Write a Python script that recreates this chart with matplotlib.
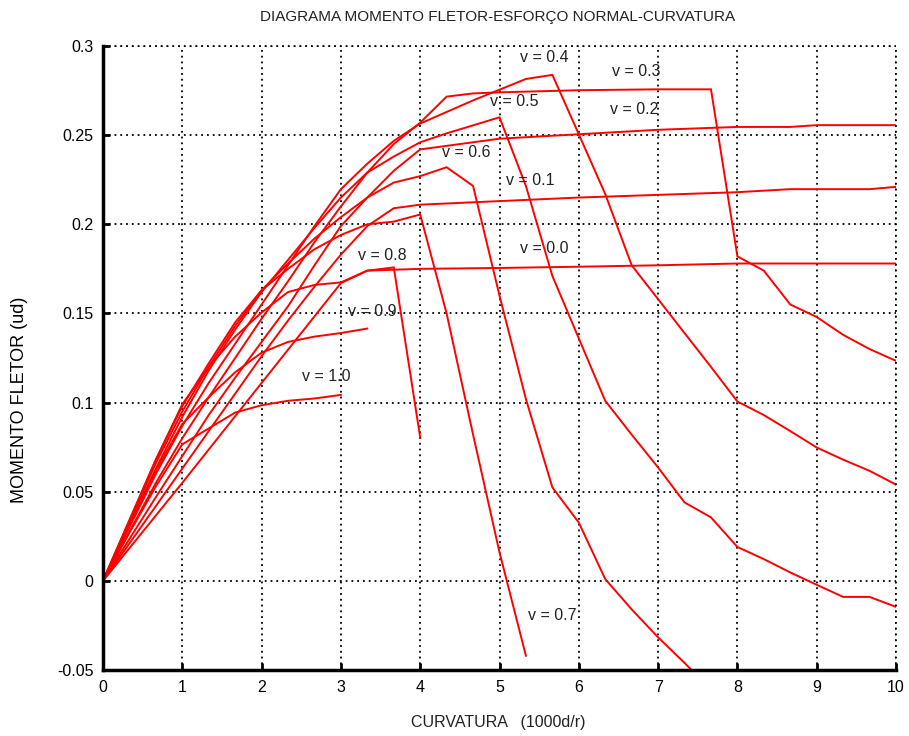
import matplotlib
matplotlib.use("Agg")
import matplotlib.pyplot as plt

plt.rcParams['font.family'] = ['Liberation Sans', 'DejaVu Sans']

# ---- data (curvature 1000d/r, bending moment) ----
x_v00 = [0, 1.0, 2.0, 3.0, 3.333, 4.0, 5.0, 6.0, 7.0, 8.0, 9.0, 10.0]
y_v00 = [0, 0.055, 0.111, 0.167, 0.174, 0.175, 0.1755, 0.1762, 0.177, 0.178, 0.178, 0.178]

x_v01 = [0, 0.667, 1.0, 1.333, 1.667, 2.0, 2.333, 2.667, 3.0, 3.333, 3.667, 4.0, 5.0, 6.0, 7.0, 8.0, 8.667, 9.667, 10.0]
y_v01 = [0, 0.042, 0.063, 0.084, 0.105, 0.126, 0.146, 0.165, 0.183, 0.199, 0.209, 0.211, 0.213, 0.215, 0.2165, 0.218, 0.2197, 0.2197, 0.221]

x_v02 = [0, 0.667, 1.0, 1.333, 1.667, 2.0, 2.333, 2.667, 3.0, 3.333, 3.667, 4.0, 5.0, 6.0, 7.0, 8.0, 8.667, 9.0, 10.0]
y_v02 = [0, 0.047, 0.070, 0.093, 0.114, 0.134, 0.154, 0.177, 0.199, 0.215, 0.230, 0.242, 0.248, 0.2505, 0.253, 0.2546, 0.2546, 0.2556, 0.2556]

x_v03 = [0, 0.667, 1.0, 1.333, 1.667, 2.0, 2.333, 2.667, 3.0, 3.333, 3.667, 4.0, 4.333, 4.667, 5.0, 6.0, 7.0, 7.667,
         8.0, 8.333, 8.667, 9.0, 9.333, 9.667, 10.0]
y_v03 = [0, 0.055, 0.080, 0.103, 0.125, 0.147, 0.168, 0.190, 0.210, 0.229, 0.245, 0.257, 0.2716, 0.2734, 0.274, 0.2752, 0.2757, 0.2757,
         0.182, 0.174, 0.155, 0.148, 0.138, 0.130, 0.1234]

x_v04 = [0, 0.667, 1.0, 1.333, 1.667, 2.0, 2.333, 2.667, 3.0, 3.333, 3.667, 4.0, 4.333, 4.667, 5.0, 5.333, 5.667,
         6.0, 6.333, 6.667, 7.0, 7.333, 7.667, 8.0, 8.333, 8.667, 9.0, 9.333, 9.667, 10.0]
y_v04 = [0, 0.060, 0.087, 0.111, 0.133, 0.155, 0.177, 0.199, 0.2197, 0.234, 0.2468, 0.2565, 0.263, 0.2695, 0.2755, 0.2815, 0.2838,
         0.2505, 0.217, 0.177, 0.158, 0.139, 0.120, 0.1006, 0.093, 0.084, 0.0748, 0.068, 0.0617, 0.054]

x_v05 = [0, 0.667, 1.0, 1.333, 1.667, 2.0, 2.333, 2.667, 3.0, 3.333, 3.667, 4.0, 4.333, 4.667, 5.0, 5.333, 5.667,
         6.0, 6.333, 6.667, 7.0, 7.333, 7.667, 8.0, 8.333, 8.667, 9.0, 9.333, 9.667, 10.0]
y_v05 = [0, 0.063, 0.092, 0.118, 0.141, 0.162, 0.180, 0.198, 0.215, 0.229, 0.238, 0.246, 0.251, 0.2555, 0.260, 0.2215, 0.171,
         0.136, 0.101, 0.082, 0.0636, 0.044, 0.0356, 0.019, 0.0122, 0.0047, -0.0022, -0.009, -0.009, -0.0146]

x_v06 = [0, 0.667, 1.0, 1.333, 1.667, 2.0, 2.333, 2.667, 3.0, 3.333, 3.667, 4.0, 4.333, 4.667, 5.0, 5.333, 5.667,
         6.0, 6.333, 6.667, 7.0, 7.333, 7.667]
y_v06 = [0, 0.066, 0.095, 0.120, 0.143, 0.163, 0.178, 0.192, 0.204, 0.215, 0.2234, 0.227, 0.232, 0.2215, 0.160, 0.102, 0.0524,
         0.0327, 0.001, -0.016, -0.0317, -0.046, -0.061]

x_v07 = [0, 0.667, 1.0, 1.333, 1.667, 2.0, 2.333, 2.667, 3.0, 3.333, 3.667, 4.0, 4.333, 4.667, 5.0, 5.333]
y_v07 = [0, 0.068, 0.098, 0.122, 0.145, 0.163, 0.175, 0.186, 0.194, 0.200, 0.2015, 0.2055, 0.150, 0.082, 0.016, -0.042]

x_v08 = [0, 0.667, 1.0, 1.333, 1.667, 2.0, 2.333, 2.667, 3.0, 3.333, 3.667, 4.0]
y_v08 = [0, 0.068, 0.099, 0.120, 0.137, 0.1505, 0.162, 0.166, 0.1674, 0.174, 0.1758, 0.0804]

x_v09 = [0, 0.667, 1.0, 1.333, 1.667, 2.0, 2.333, 2.667, 3.0, 3.333]
y_v09 = [0, 0.062, 0.088, 0.103, 0.117, 0.128, 0.134, 0.137, 0.139, 0.1415]

x_v10 = [0, 0.333, 0.667, 1.0, 1.333, 1.667, 2.0, 2.333, 2.667, 3.0]
y_v10 = [0, 0.027, 0.053, 0.0766, 0.0855, 0.0944, 0.0985, 0.101, 0.1023, 0.1043]

series_x = [x_v00, x_v01, x_v02, x_v03, x_v04, x_v05, x_v06, x_v07, x_v08, x_v09, x_v10]
series_y = [y_v00, y_v01, y_v02, y_v03, y_v04, y_v05, y_v06, y_v07, y_v08, y_v09, y_v10]

curve_labels = ["v = 0.0", "v = 0.1", "v = 0.2", "v = 0.3", "v = 0.4", "v = 0.5",
                "v = 0.6", "v = 0.7", "v = 0.8", "v = 0.9", "v = 1.0"]
label_x = [5.26, 5.08, 6.39, 6.42, 5.26, 4.88, 4.27, 5.36, 3.22, 3.09, 2.51]
label_y = [0.1866, 0.2248, 0.2645, 0.2859, 0.2937, 0.269, 0.2404, -0.0193, 0.1826, 0.1513, 0.1148]

x_ticks = [0, 1, 2, 3, 4, 5, 6, 7, 8, 9, 10]
x_tick_labels = ["0", "1", "2", "3", "4", "5", "6", "7", "8", "9", "10"]
y_ticks = [-0.05, 0, 0.05, 0.1, 0.15, 0.2, 0.25, 0.3]
y_tick_labels = ["-0.05", "0", "0.05", "0.1", "0.15", "0.2", "0.25", "0.3"]

# ---- figure ----
fig = plt.figure(figsize=(9.09, 7.36), dpi=100)
ax = fig.add_axes([103 / 909, 1 - 670 / 736, (896 - 103) / 909, (670 - 46) / 736])

for xs, ys in zip(series_x, series_y):
    ax.plot(xs, ys, color="#ff0000", lw=1.4, solid_joinstyle="miter")

for txt, lx, ly in zip(curve_labels, label_x, label_y):
    ax.text(lx, ly, txt, fontsize=11.5, color="#222222", ha="left", va="center")

ax.set_xlim(0, 10)
ax.set_ylim(-0.05, 0.3)
ax.set_xticks(x_ticks)
ax.set_xticklabels(x_tick_labels)
ax.set_yticks(y_ticks)
ax.set_yticklabels(y_tick_labels)
ax.tick_params(direction="in", length=5, width=2, labelsize=11.5, pad=7, colors="black")

ax.grid(True, color="black", linestyle=(0, (1, 2.2)), linewidth=1.3)
ax.set_axisbelow(True)
for side in ["top", "right"]:
    ax.spines[side].set_visible(False)
for side in ["left", "bottom"]:
    ax.spines[side].set_linewidth(2.5)

# gridlines at the upper / right limits
ax.axhline(0.3, color="black", linestyle=(0, (1, 2.2)), linewidth=1.3, clip_on=False)
ax.axvline(10, color="black", linestyle=(0, (1, 2.2)), linewidth=1.3, clip_on=False)

fig.text(498 / 909, 1 - 17 / 736, "DIAGRAMA MOMENTO FLETOR-ESFORÇO NORMAL-CURVATURA",
         fontsize=11, ha="center", va="center", color="#222222")
fig.text(498 / 909, 1 - 722 / 736, "CURVATURA   (1000d/r)",
         fontsize=11.5, ha="center", va="center", color="#222222")
fig.text(20 / 909, 1 - 400 / 736, "MOMENTO FLETOR (ud)", rotation=90,
         fontsize=13, ha="center", va="center", color="black")

fig.savefig("out.png", dpi=100)
